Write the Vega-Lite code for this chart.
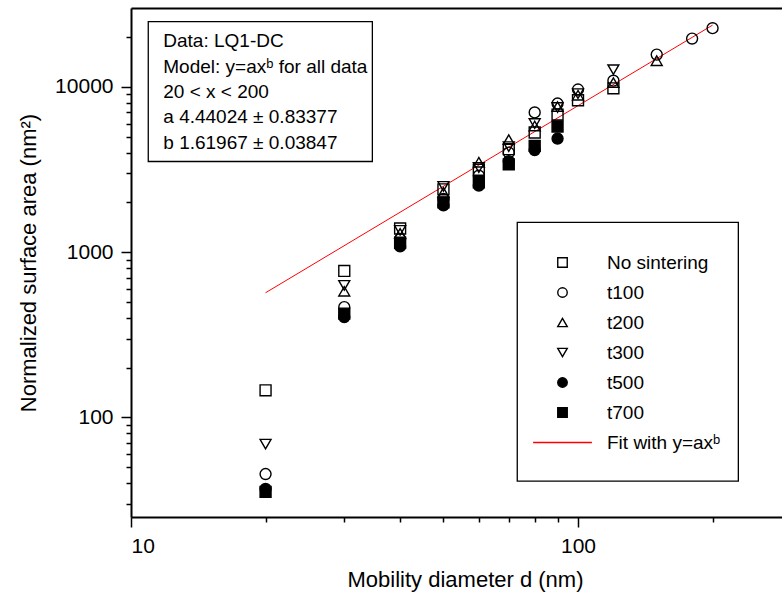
{
  "$schema": "https://vega.github.io/schema/vega-lite/v6.json",
  "width": 651,
  "height": 509,
  "autosize": {"type": "none"},
  "padding": {"left": 131, "top": 8, "right": 0, "bottom": 79},
  "background": "white",
  "config": {
    "view": {"stroke": null},
    "font": "Liberation Sans",
    "axis": {"labelFont": "Liberation Sans", "titleFont": "Liberation Sans", "labelColor": "black", "titleColor": "black", "domainColor": "black", "tickColor": "black", "grid": false, "titleFontWeight": "normal"}
  },
  "resolve": {"axis": {"x": "independent", "y": "independent"}},
  "layer": [
    {
      "data": {"values": [
        {"x": 10.93, "x2": 34.67, "y": 24810, "y2": 3536},
        {"x": 73.13, "x2": 228.4, "y": 1514, "y2": 41.2}
      ]},
      "mark": {"type": "rect", "fill": "white", "stroke": "black", "strokeWidth": 1.3},
      "encoding": {
        "x": {"field": "x", "type": "quantitative", "scale": {"type": "log", "domain": [10, 286], "nice": false}, "axis": null},
        "x2": {"field": "x2"},
        "y": {"field": "y", "type": "quantitative", "scale": {"type": "log", "domain": [25, 30000], "nice": false}, "axis": null},
        "y2": {"field": "y2"}
      }
    },
    {
      "data": {"values": [
        {"x": 11.81, "y": 19050, "line": "Data: LQ1-DC"},
        {"x": 11.81, "y": 13270, "line": "Model: y=axᵇ for all data"},
        {"x": 11.81, "y": 9370, "line": "20 < x < 200"},
        {"x": 11.81, "y": 6530, "line": "a 4.44024 ± 0.83377"},
        {"x": 11.81, "y": 4550, "line": "b 1.61967 ± 0.03847"}
      ]},
      "mark": {"type": "text", "align": "left", "baseline": "middle", "font": "Liberation Sans", "fontSize": 19, "color": "black"},
      "encoding": {
        "x": {"field": "x", "type": "quantitative", "scale": {"type": "log", "domain": [10, 286], "nice": false}, "axis": null},
        "y": {"field": "y", "type": "quantitative", "scale": {"type": "log", "domain": [25, 30000], "nice": false}, "axis": null},
        "text": {"field": "line"}
      }
    },
    {
      "data": {"values": [
        {"x": 20, "y": 568},
        {"x": 200, "y": 23630}
      ]},
      "mark": {"type": "line", "color": "#ff0000", "strokeWidth": 1},
      "encoding": {
        "x": {"field": "x", "type": "quantitative", "scale": {"type": "log", "domain": [10, 286], "nice": false},
              "axis": {"orient": "top", "ticks": false, "labels": false, "title": null, "domainWidth": 2, "domainColor": "black"}},
        "y": {"field": "y", "type": "quantitative", "scale": {"type": "log", "domain": [25, 30000], "nice": false}, "axis": null}
      }
    },
    {
      "data": {"values": [
        {"d": 20, "area": 146, "series": "No sintering"},
        {"d": 30, "area": 770, "series": "No sintering"},
        {"d": 40, "area": 1390, "series": "No sintering"},
        {"d": 50, "area": 2400, "series": "No sintering"},
        {"d": 60, "area": 3150, "series": "No sintering"},
        {"d": 70, "area": 4200, "series": "No sintering"},
        {"d": 80, "area": 5300, "series": "No sintering"},
        {"d": 90, "area": 6800, "series": "No sintering"},
        {"d": 100, "area": 8300, "series": "No sintering"},
        {"d": 120, "area": 9800, "series": "No sintering"},
        {"d": 20, "area": 45.5, "series": "t100"},
        {"d": 30, "area": 465, "series": "t100"},
        {"d": 40, "area": 1200, "series": "t100"},
        {"d": 50, "area": 2100, "series": "t100"},
        {"d": 60, "area": 2900, "series": "t100"},
        {"d": 70, "area": 4000, "series": "t100"},
        {"d": 80, "area": 7000, "series": "t100"},
        {"d": 90, "area": 7930, "series": "t100"},
        {"d": 100, "area": 9640, "series": "t100"},
        {"d": 120, "area": 10900, "series": "t100"},
        {"d": 150, "area": 15670, "series": "t100"},
        {"d": 180, "area": 19590, "series": "t100"},
        {"d": 200, "area": 22650, "series": "t100"},
        {"d": 30, "area": 580, "series": "t200"},
        {"d": 40, "area": 1300, "series": "t200"},
        {"d": 50, "area": 2300, "series": "t200"},
        {"d": 60, "area": 3500, "series": "t200"},
        {"d": 70, "area": 4800, "series": "t200"},
        {"d": 80, "area": 5800, "series": "t200"},
        {"d": 90, "area": 7600, "series": "t200"},
        {"d": 100, "area": 8900, "series": "t200"},
        {"d": 120, "area": 10620, "series": "t200"},
        {"d": 150, "area": 14400, "series": "t200"},
        {"d": 20, "area": 69, "series": "t300"},
        {"d": 30, "area": 630, "series": "t300"},
        {"d": 40, "area": 1354, "series": "t300"},
        {"d": 50, "area": 2500, "series": "t300"},
        {"d": 60, "area": 3250, "series": "t300"},
        {"d": 70, "area": 4350, "series": "t300"},
        {"d": 80, "area": 6000, "series": "t300"},
        {"d": 90, "area": 7500, "series": "t300"},
        {"d": 100, "area": 9100, "series": "t300"},
        {"d": 120, "area": 12700, "series": "t300"},
        {"d": 20, "area": 37, "series": "t500"},
        {"d": 30, "area": 405, "series": "t500"},
        {"d": 40, "area": 1084, "series": "t500"},
        {"d": 50, "area": 1920, "series": "t500"},
        {"d": 60, "area": 2530, "series": "t500"},
        {"d": 70, "area": 3550, "series": "t500"},
        {"d": 80, "area": 4150, "series": "t500"},
        {"d": 90, "area": 4870, "series": "t500"},
        {"d": 20, "area": 35.5, "series": "t700"},
        {"d": 30, "area": 425, "series": "t700"},
        {"d": 40, "area": 1140, "series": "t700"},
        {"d": 50, "area": 2000, "series": "t700"},
        {"d": 60, "area": 2650, "series": "t700"},
        {"d": 70, "area": 3400, "series": "t700"},
        {"d": 80, "area": 4400, "series": "t700"},
        {"d": 90, "area": 5760, "series": "t700"}
      ]},
      "mark": {"type": "point", "filled": true, "size": 120, "strokeWidth": 1.4, "opacity": 1},
      "encoding": {
        "x": {"field": "d", "type": "quantitative", "scale": {"type": "log", "domain": [10, 286], "nice": false},
              "axis": {"values": [10, 20, 30, 40, 50, 60, 70, 80, 90, 100, 200],
                       "labelExpr": "(datum.value == 10 || datum.value == 100) ? format(datum.value, 'd') : ''",
                       "tickSize": {"condition": {"test": "datum.value == 10 || datum.value == 100", "value": 10}, "value": 5},
                       "tickWidth": 1.5, "domainWidth": 2, "labelFontSize": 21, "labelPadding": 8,
                       "title": "Mobility diameter d (nm)", "titleFontSize": 22, "titlePadding": 13, "titleX": 334}},
        "y": {"field": "area", "type": "quantitative", "scale": {"type": "log", "domain": [25, 30000], "nice": false},
              "axis": {"values": [30, 40, 50, 60, 70, 80, 90, 100, 200, 300, 400, 500, 600, 700, 800, 900, 1000, 2000, 3000, 4000, 5000, 6000, 7000, 8000, 9000, 10000, 20000],
                       "labelExpr": "(datum.value == 100 || datum.value == 1000 || datum.value == 10000) ? format(datum.value, 'd') : ''",
                       "tickSize": {"condition": {"test": "datum.value == 100 || datum.value == 1000 || datum.value == 10000", "value": 10}, "value": 5},
                       "tickWidth": 1.5, "domainWidth": 2, "labelFontSize": 21, "labelPadding": 8,
                       "title": "Normalized surface area (nm²)", "titleFontSize": 22, "titlePadding": 14}},
        "shape": {"field": "series", "type": "nominal",
                  "scale": {"domain": ["No sintering", "t100", "t200", "t300", "t500", "t700", "Fit with y=axᵇ"],
                            "range": ["square", "circle", "triangle-up", "triangle-down", "circle", "square", "M-6.2,0H6.2"]},
                  "legend": {"title": null, "orient": "none", "legendX": 422, "legendY": 245, "padding": 0, "labelFontSize": 19, "labelFont": "Liberation Sans", "labelColor": "black", "symbolSize": 90, "symbolStrokeWidth": 1.4, "rowPadding": 10, "labelOffset": 35, "symbolOpacity": 1}},
        "fill": {"field": "series", "type": "nominal",
                 "scale": {"domain": ["No sintering", "t100", "t200", "t300", "t500", "t700", "Fit with y=axᵇ"],
                           "range": ["transparent", "transparent", "transparent", "transparent", "black", "black", "transparent"]},
                 "legend": {"title": null, "orient": "none", "legendX": 422, "legendY": 245, "padding": 0, "labelFontSize": 19, "labelFont": "Liberation Sans", "labelColor": "black", "symbolSize": 90, "symbolStrokeWidth": 1.4, "rowPadding": 10, "labelOffset": 35, "symbolOpacity": 1}},
        "stroke": {"field": "series", "type": "nominal",
                   "scale": {"domain": ["No sintering", "t100", "t200", "t300", "t500", "t700", "Fit with y=axᵇ"],
                             "range": ["black", "black", "black", "black", "black", "black", "#ff0000"]},
                   "legend": {"title": null, "orient": "none", "legendX": 422, "legendY": 245, "padding": 0, "labelFontSize": 19, "labelFont": "Liberation Sans", "labelColor": "black", "symbolSize": 90, "symbolStrokeWidth": 1.4, "rowPadding": 10, "labelOffset": 35, "symbolOpacity": 1}}
      }
    }
  ]
}
